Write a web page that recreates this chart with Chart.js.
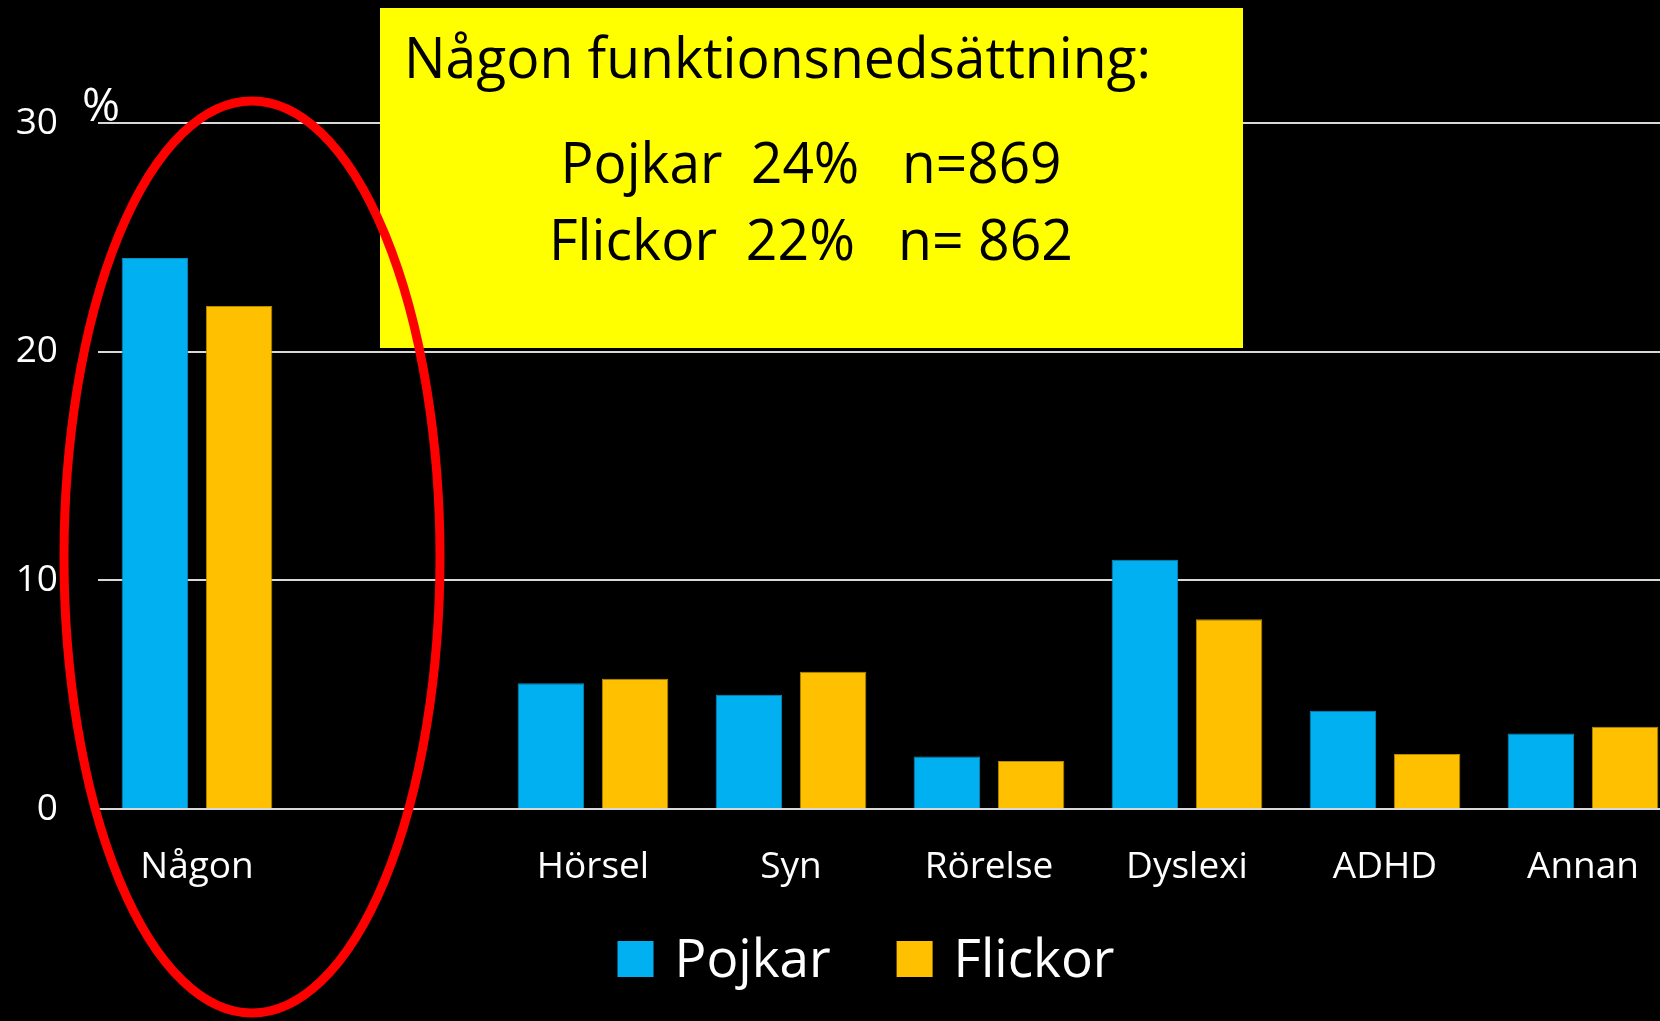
<!DOCTYPE html>
<html>
<head>
<meta charset="utf-8">
<script src="https://cdn.jsdelivr.net/npm/chart.js@4"></script>
<style>
  html, body { margin: 0; padding: 0; background: #000; overflow: hidden; }
  #wrap { width: 1700px; height: 1021px; }
</style>
</head>
<body>
<div id="wrap"><canvas id="chart" width="1700" height="1021"></canvas></div>
<script>
// Data
const categories = ["Någon", "", "Hörsel", "Syn", "Rörelse", "Dyslexi", "ADHD", "Annan"];
const pojkar = [24.1, null, 5.5, 5.0, 2.3, 10.9, 4.3, 3.3];
const flickor = [22.0, null, 5.7, 6.0, 2.1, 8.3, 2.4, 3.6];
const yTicks = [0, 10, 20, 30];

const boxTitle = "Någon funktionsnedsättning:";
const boxLines = ["Pojkar  24%   n=869", "Flickor  22%   n= 862"];

const FONT = "'Open Sans', 'Noto Sans', sans-serif";

// Yellow text box, "%" unit, red ellipse and the legend
const overlay = {
  id: "overlay",
  afterDraw(chart) {
    const ctx = chart.ctx;
    ctx.save();

    // unit label
    ctx.fillStyle = "#fff";
    ctx.font = "46px " + FONT;
    ctx.textAlign = "left";
    ctx.textBaseline = "alphabetic";
    ctx.fillText("%", 82, 121);

    // yellow box
    ctx.fillStyle = "#FFFF00";
    ctx.fillRect(380, 8, 863, 340);
    ctx.fillStyle = "#000";
    ctx.font = "57px " + FONT;
    ctx.fillText(boxTitle, 404, 78, 747);
    ctx.textAlign = "center";
    ctx.font = "56px " + FONT;
    ctx.fillText(boxLines[0], 811, 183, 501);
    ctx.fillText(boxLines[1], 811, 260, 524);

    // legend
    ctx.font = "53px " + FONT;
    ctx.textAlign = "left";
    const box = 36, gap = 21, spacing = 66;
    const items = chart.data.datasets.map(ds => ({
      label: ds.label, color: ds.backgroundColor,
      w: box + gap + ctx.measureText(ds.label).width
    }));
    const total = items.reduce((s, it) => s + it.w, 0) + spacing * (items.length - 1);
    let x = 866 - total / 2;
    items.forEach(it => {
      ctx.fillStyle = it.color;
      ctx.fillRect(x, 941, box, box);
      ctx.fillStyle = "#fff";
      ctx.fillText(it.label, x + box + gap, 977);
      x += it.w + spacing;
    });

    // red ellipse around the first group
    ctx.strokeStyle = "#FF0000";
    ctx.lineWidth = 9;
    ctx.beginPath();
    ctx.ellipse(252, 557, 188, 456, 0, 0, Math.PI * 2);
    ctx.stroke();

    ctx.restore();
  }
};

new Chart(document.getElementById("chart"), {
  type: "bar",
  data: {
    labels: categories,
    datasets: [
      {
        label: "Pojkar",
        data: pojkar,
        backgroundColor: "#00B0F0",
        borderColor: "#0B8CC0",
        borderWidth: 1,
      },
      {
        label: "Flickor",
        data: flickor,
        backgroundColor: "#FFC000",
        borderColor: "#B88A00",
        borderWidth: 1,
      },
    ],
  },
  options: {
    responsive: false,
    animation: false,
    devicePixelRatio: 1,
    layout: { padding: { top: 123, right: 18, bottom: 0, left: 0 } },
    datasets: { bar: { categoryPercentage: 0.85, barPercentage: 0.79 } },
    plugins: {
      legend: { display: false },
      tooltip: { enabled: false },
    },
    scales: {
      x: {
        grid: { display: false, drawTicks: false },
        border: { display: true, color: "#D9D9D9", width: 2 },
        ticks: {
          color: "#fff",
          font: { family: FONT, size: 37 },
          padding: 36,
          maxRotation: 0,
          autoSkip: false,
        },
        afterFit(scale) { scale.height = 212; },
      },
      y: {
        min: 0,
        max: 30,
        afterBuildTicks(scale) { scale.ticks = yTicks.map(v => ({ value: v })); },
        grid: { color: "#D9D9D9", lineWidth: 2, drawTicks: false },
        border: { display: false },
        ticks: {
          color: "#fff",
          font: { family: FONT, size: 37 },
          padding: 40,
        },
        afterFit(scale) { scale.width = 98; },
      },
    },
  },
  plugins: [overlay],
});
</script>
</body>
</html>
